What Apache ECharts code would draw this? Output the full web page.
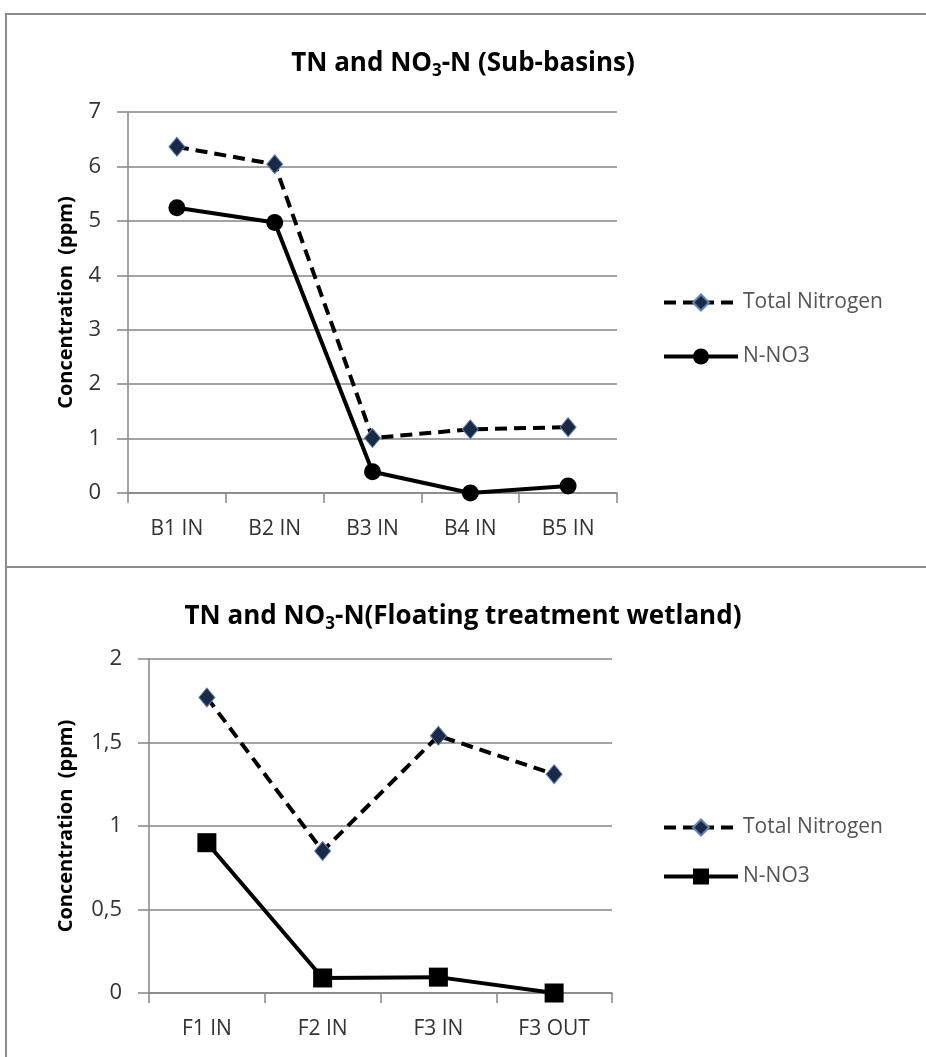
<!DOCTYPE html>
<html>
<head>
<meta charset="utf-8">
<script src="https://cdn.jsdelivr.net/npm/echarts@6/dist/echarts.min.js"></script>
<style>
  body { margin: 0; background: #fff; }
  #basins { position: absolute; left: 0; top: 0; width: 926px; height: 566px; }
  #wetland { position: absolute; left: 0; top: 568px; width: 926px; height: 489px; }
  .frame { position: absolute; background: #8c8c8c; }
</style>
</head>
<body>
<div id="basins"></div>
<div id="wetland"></div>
<div class="frame" style="left:5px;top:13px;width:921px;height:2px"></div>
<div class="frame" style="left:5px;top:13px;width:2px;height:1044px"></div>
<div class="frame" style="left:5px;top:566px;width:921px;height:2px"></div>
<script>
var basinCats = ['B1 IN', 'B2 IN', 'B3 IN', 'B4 IN', 'B5 IN'];
var basinTN = [6.36, 6.04, 1.01, 1.17, 1.21];
var basinNO3 = [5.24, 4.97, 0.39, 0.0, 0.13];

var wetCats = ['F1 IN', 'F2 IN', 'F3 IN', 'F3 OUT'];
var wetTN = [1.77, 0.85, 1.54, 1.31];
var wetNO3 = [0.90, 0.09, 0.095, 0.0];

var font = 'Open Sans';
var grey = '#868686';

function titleOpt(pre, post, top) {
    return {
        text: '{a|' + pre + '}{s|3}{a|' + post + '}',
        left: 'center',
        top: top,
        textStyle: {
            rich: {
                a: { fontFamily: font, fontWeight: 'bold', fontSize: 26, color: '#000', lineHeight: 32 },
                s: { fontFamily: font, fontWeight: 'bold', fontSize: 17, color: '#000', lineHeight: 32, verticalAlign: 'bottom' }
            }
        }
    };
}

function yAxisOpt(max, step, gap, fmt) {
    return {
        type: 'value',
        min: 0,
        max: max,
        interval: step,
        name: 'Concentration  (ppm)',
        nameLocation: 'middle',
        nameGap: gap,
        nameTextStyle: { fontFamily: font, fontWeight: 'bold', fontSize: 20, color: '#000' },
        axisLine: { show: true, lineStyle: { color: grey, width: 1.5 } },
        axisTick: { show: true, length: 11, lineStyle: { color: grey, width: 1.5 } },
        splitLine: { lineStyle: { color: grey, width: 1.5 } },
        axisLabel: { fontFamily: font, fontSize: 22, color: '#333', margin: 27, formatter: fmt }
    };
}

function xAxisOpt(cats) {
    return {
        type: 'category',
        data: cats,
        boundaryGap: true,
        axisLine: { lineStyle: { color: grey, width: 1.5 } },
        axisTick: { show: true, length: 10, lineStyle: { color: grey, width: 1.5 } },
        axisLabel: { fontFamily: font, fontSize: 21, color: '#333', margin: 26 }
    };
}

function tnSeries(data) {
    return {
        name: 'Total Nitrogen',
        type: 'line',
        data: data,
        symbol: 'diamond',
        symbolSize: [16, 19],
        lineStyle: { color: '#000', width: 4, type: [12, 7] },
        itemStyle: { color: '#1a2944', borderColor: '#5d82b8', borderWidth: 1 },
        z: 3
    };
}

function no3Series(data, shape, size) {
    return {
        name: 'N-NO3',
        type: 'line',
        data: data,
        symbol: shape,
        symbolSize: size,
        lineStyle: { color: '#000', width: 4 },
        itemStyle: { color: '#000' },
        z: 2
    };
}

function legendOpt(top, gap) {
    return {
        orient: 'vertical',
        left: 657,
        top: top,
        itemWidth: 74,
        itemHeight: 20,
        itemGap: gap,
        lineStyle: { width: 4 },
        textStyle: { fontFamily: font, fontSize: 21, lineHeight: 20, color: '#555' },
        data: ['Total Nitrogen', 'N-NO3']
    };
}

var basinChart = echarts.init(document.getElementById('basins'));
basinChart.setOption({
    animation: false,
    title: titleOpt('TN and NO', '-N (Sub-basins)', 43),
    legend: legendOpt(287, 33),
    grid: { left: 128, right: 309, top: 112, bottom: 73 },
    xAxis: xAxisOpt(basinCats),
    yAxis: yAxisOpt(7, 1, 52),
    series: [tnSeries(basinTN), no3Series(basinNO3, 'circle', 17)]
});

var wetChart = echarts.init(document.getElementById('wetland'));
wetChart.setOption({
    animation: false,
    title: titleOpt('TN and NO', '-N(Floating treatment wetland)', 28),
    legend: legendOpt(244, 28),
    grid: { left: 149, right: 314, top: 91, bottom: 64 },
    xAxis: xAxisOpt(wetCats),
    yAxis: yAxisOpt(2, 0.5, 73, function (v) { return String(v).replace('.', ','); }),
    series: [tnSeries(wetTN), no3Series(wetNO3, 'rect', 19)]
});
</script>
</body>
</html>
